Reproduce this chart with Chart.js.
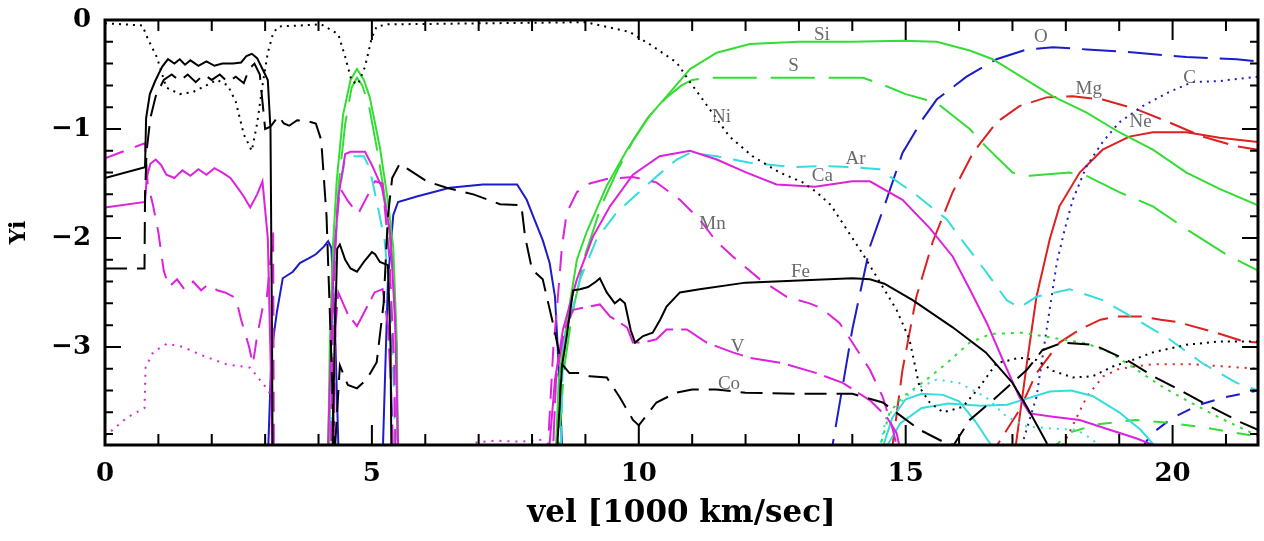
<!DOCTYPE html>
<html>
<head>
<meta charset="utf-8">
<script src="https://cdn.jsdelivr.net/npm/chart.js@4.4.0/dist/chart.umd.min.js"></script>
<style>
  html, body { margin: 0; padding: 0; background: #fff; }
</style>
</head>
<body>
<canvas id="abund" width="1264" height="541"></canvas>
<script>
// --- axis ticks ---
const xMajor = [0, 5, 10, 15, 20];
const xMinor = [1, 2, 3, 4, 6, 7, 8, 9, 11, 12, 13, 14, 16, 17, 18, 19, 21];
const yMajor = [0, -1, -2, -3];
const yMinor = [-0.2, -0.4, -0.6, -0.8, -1.2, -1.4, -1.6, -1.8, -2.2, -2.4, -2.6, -2.8, -3.2, -3.4, -3.6, -3.8];

// --- series: [vel, Yi] (below -3.9 = off the bottom) ---
const fe = [[0,-1.45],[0.75,-1.35],[0.77,-0.9],[0.84,-0.68],[0.94,-0.56],[1.07,-0.43],[1.18,-0.36],[1.3,-0.4],[1.4,-0.36],[1.5,-0.41],[1.6,-0.37],[1.75,-0.42],[1.9,-0.38],[2.05,-0.42],[2.2,-0.4],[2.4,-0.4],[2.55,-0.39],[2.65,-0.33],[2.75,-0.31],[2.85,-0.35],[2.95,-0.45],[3.05,-0.55],[3.1,-1.0],[3.13,-3.0],[3.15,-5],[4.22,-5],[4.3,-3.0],[4.35,-2.1],[4.4,-2.06],[4.5,-2.2],[4.6,-2.28],[4.72,-2.31],[4.85,-2.22],[5.0,-2.13],[5.06,-2.15],[5.15,-2.22],[5.3,-2.25],[5.35,-3.0],[5.38,-5],[8.45,-5],[8.48,-3.85],[8.56,-3.18],[8.65,-2.9],[8.77,-2.48],[8.9,-2.47],[9.05,-2.45],[9.2,-2.4],[9.27,-2.37],[9.4,-2.5],[9.55,-2.6],[9.65,-2.56],[9.74,-2.6],[9.85,-2.85],[9.93,-2.96],[10.08,-2.9],[10.26,-2.87],[10.4,-2.75],[10.52,-2.63],[10.77,-2.5],[11.14,-2.47],[12.0,-2.41],[13.0,-2.39],[14.0,-2.37],[14.33,-2.38],[14.6,-2.42],[15.13,-2.57],[15.88,-2.82],[16.5,-3.05],[17.0,-3.33],[17.27,-3.55],[17.64,-3.88],[17.7,-5]];
const co = [[0,-2.28],[0.74,-2.28],[0.75,-1.6],[0.78,-1.2],[0.85,-0.9],[0.95,-0.7],[1.1,-0.55],[1.25,-0.5],[1.4,-0.56],[1.55,-0.5],[1.7,-0.57],[1.85,-0.5],[2.0,-0.55],[2.15,-0.5],[2.3,-0.57],[2.45,-0.52],[2.6,-0.58],[2.7,-0.45],[2.8,-0.4],[2.9,-0.5],[2.95,-0.75],[3.0,-1.0],[3.1,-0.98],[3.25,-0.88],[3.35,-0.95],[3.45,-0.97],[3.6,-0.92],[3.8,-0.93],[3.95,-0.95],[4.05,-1.1],[4.15,-1.8],[4.22,-2.8],[4.3,-4.0],[4.4,-3.17],[4.55,-3.35],[4.72,-3.38],[4.9,-3.3],[5.09,-3.14],[5.22,-2.6],[5.3,-1.8],[5.38,-1.45],[5.52,-1.32],[6.03,-1.48],[6.4,-1.54],[6.9,-1.6],[7.4,-1.69],[7.8,-1.7],[7.87,-1.99],[8.0,-2.29],[8.2,-2.38],[8.4,-2.8],[8.55,-3.15],[8.7,-3.24],[8.9,-3.24],[9.08,-3.27],[9.4,-3.28],[9.64,-3.46],[9.89,-3.67],[10.0,-3.72],[10.33,-3.51],[10.7,-3.42],[11.0,-3.39],[11.45,-3.39],[12.0,-3.42],[13.0,-3.43],[14.0,-3.43],[14.57,-3.51],[15.26,-3.76],[15.7,-3.87],[15.9,-3.9],[16.2,-3.67],[16.7,-3.46],[17.27,-3.21],[17.56,-3.03],[17.94,-2.96],[18.52,-2.98],[19.14,-3.12],[19.64,-3.27],[20.15,-3.4],[20.64,-3.53],[21.27,-3.69],[21.6,-3.76]];
const ni = [[0,-0.03],[0.7,-0.05],[0.8,-0.17],[0.97,-0.34],[1.15,-0.62],[1.4,-0.68],[1.65,-0.66],[1.9,-0.6],[2.1,-0.55],[2.3,-0.6],[2.45,-0.75],[2.6,-1.05],[2.75,-1.2],[2.85,-0.95],[2.95,-0.6],[3.05,-0.3],[3.15,-0.12],[3.25,-0.06],[4.05,-0.04],[4.37,-0.13],[4.5,-0.34],[4.62,-0.56],[4.74,-0.59],[4.87,-0.43],[5.0,-0.16],[5.09,-0.06],[5.3,-0.04],[9.0,-0.02],[9.83,-0.11],[10.26,-0.24],[10.71,-0.39],[10.96,-0.57],[11.33,-0.82],[11.7,-1.07],[12.13,-1.25],[12.64,-1.4],[13.07,-1.49],[13.33,-1.58],[13.6,-1.7],[14.2,-2.15],[14.57,-2.45],[14.83,-2.66],[15.07,-2.93],[15.26,-3.37],[15.45,-3.51],[15.7,-3.6],[16.07,-3.55],[16.38,-3.37],[16.7,-3.15],[17.13,-3.1],[17.45,-3.12],[17.76,-3.22],[18.13,-3.28],[18.5,-3.27],[18.88,-3.18],[19.25,-3.12],[19.63,-3.05],[20.26,-2.98],[20.88,-2.95],[21.6,-2.95]];
const si = [[4.15,-5],[4.21,-3.0],[4.27,-2.09],[4.34,-1.48],[4.46,-0.87],[4.6,-0.55],[4.72,-0.45],[4.85,-0.55],[4.96,-0.71],[5.15,-1.17],[5.3,-1.66],[5.4,-2.09],[5.47,-3.0],[5.5,-5],[8.4,-5],[8.45,-3.9],[8.5,-3.3],[8.65,-2.78],[8.84,-2.2],[9.02,-1.95],[9.4,-1.52],[9.78,-1.19],[10.15,-0.91],[10.52,-0.7],[10.96,-0.45],[11.46,-0.3],[12.08,-0.22],[13.0,-0.2],[14.0,-0.2],[14.94,-0.19],[15.58,-0.2],[16.2,-0.28],[16.63,-0.36],[17.13,-0.51],[17.76,-0.7],[18.39,-0.85],[19.0,-1.03],[19.63,-1.19],[20.26,-1.4],[20.88,-1.55],[21.6,-1.7]];
const sul = [[4.17,-5],[4.23,-3.0],[4.3,-2.1],[4.38,-1.5],[4.5,-0.95],[4.62,-0.62],[4.72,-0.53],[4.82,-0.6],[4.95,-0.8],[5.12,-1.25],[5.28,-1.75],[5.38,-2.2],[5.46,-3.0],[5.5,-5],[8.45,-5],[8.5,-3.9],[8.6,-3.2],[8.75,-2.7],[9.0,-2.15],[9.3,-1.7],[9.6,-1.38],[9.9,-1.1],[10.2,-0.88],[10.5,-0.72],[10.8,-0.6],[11.0,-0.55],[11.3,-0.53],[14.2,-0.53],[14.6,-0.6],[15.0,-0.68],[15.58,-0.76],[16.2,-1.0],[16.5,-1.16],[17.0,-1.4],[17.32,-1.43],[18.07,-1.4],[18.39,-1.43],[19.0,-1.58],[19.63,-1.71],[20.26,-1.92],[21.0,-2.15],[21.6,-2.3]];
const greenDot = [[14.5,-3.95],[14.7,-3.6],[14.94,-3.46],[15.39,-3.3],[15.77,-3.15],[16.2,-2.96],[16.6,-2.88],[17.2,-2.87],[17.8,-2.92],[18.4,-2.97],[18.82,-3.05],[19.33,-3.21],[19.82,-3.37],[20.26,-3.49],[20.88,-3.65],[21.44,-3.78],[21.6,-3.82]];
const greenDash = [[17.7,-3.95],[18.1,-3.78],[18.6,-3.71],[19.3,-3.67],[20.0,-3.7],[20.6,-3.74],[21.2,-3.79],[21.6,-3.82]];
const ar = [[4.2,-5],[4.25,-3.0],[4.3,-2.2],[4.38,-1.6],[4.5,-1.27],[4.6,-1.25],[4.85,-1.25],[4.95,-1.35],[5.09,-1.66],[5.24,-2.03],[5.35,-2.6],[5.42,-3.5],[5.45,-5],[8.5,-5],[8.58,-3.0],[8.9,-2.38],[9.21,-2.01],[9.58,-1.77],[9.96,-1.6],[10.3,-1.45],[10.71,-1.28],[10.96,-1.22],[11.46,-1.25],[12.08,-1.31],[12.88,-1.35],[13.4,-1.34],[14.0,-1.35],[14.51,-1.37],[15.13,-1.58],[15.77,-1.83],[16.1,-2.05],[16.52,-2.32],[16.89,-2.57],[17.13,-2.64],[17.45,-2.54],[18.07,-2.47],[18.69,-2.57],[19.33,-2.75],[19.94,-2.93],[20.56,-3.15],[21.2,-3.33],[21.6,-3.4]];
const cyanA = [[14.6,-3.95],[14.9,-3.7],[15.3,-3.56],[15.8,-3.52],[16.4,-3.54],[16.9,-3.53],[17.3,-3.47],[17.7,-3.41],[18.1,-3.4],[18.5,-3.45],[19.0,-3.6],[19.4,-3.76],[19.65,-3.9],[19.7,-5]];
const cyanB = [[14.55,-3.95],[14.75,-3.65],[15.0,-3.48],[15.3,-3.43],[15.7,-3.44],[16.0,-3.5],[16.3,-3.68],[16.6,-3.9],[16.65,-5]];
const cyanDot = [[14.5,-3.95],[14.64,-3.64],[15.13,-3.4],[15.58,-3.3],[16.0,-3.33],[16.5,-3.46],[16.89,-3.64],[17.27,-3.73],[17.76,-3.75],[18.2,-3.76],[18.5,-3.85],[18.7,-3.95]];
const ca = [[0,-1.72],[0.75,-1.67],[0.78,-1.45],[0.85,-1.32],[0.95,-1.28],[1.05,-1.33],[1.15,-1.42],[1.3,-1.45],[1.45,-1.38],[1.6,-1.43],[1.75,-1.37],[1.9,-1.42],[2.05,-1.36],[2.2,-1.4],[2.35,-1.45],[2.5,-1.55],[2.6,-1.62],[2.72,-1.72],[2.85,-1.6],[2.95,-1.48],[3.05,-2.0],[3.12,-3.5],[3.15,-5],[4.15,-5],[4.18,-3.87],[4.27,-2.4],[4.37,-1.63],[4.5,-1.23],[4.6,-1.21],[4.87,-1.21],[5.0,-1.33],[5.19,-1.54],[5.34,-1.94],[5.43,-2.7],[5.49,-3.87],[5.52,-5],[8.3,-5],[8.33,-3.88],[8.43,-3.3],[8.58,-2.84],[8.84,-2.38],[9.14,-1.99],[9.46,-1.71],[9.89,-1.42],[10.39,-1.25],[10.96,-1.2],[11.46,-1.28],[12.02,-1.4],[12.58,-1.51],[13.3,-1.53],[14.0,-1.48],[14.33,-1.48],[14.94,-1.65],[15.45,-1.91],[15.88,-2.17],[16.2,-2.47],[16.52,-2.78],[16.82,-3.12],[17.13,-3.46],[17.32,-3.61],[17.76,-3.64],[18.26,-3.67],[18.82,-3.76],[19.33,-3.84],[19.63,-3.9],[19.8,-5]];
const mn = [[0,-1.27],[0.75,-1.13],[0.8,-1.5],[0.9,-1.7],[1.0,-1.95],[1.1,-2.3],[1.2,-2.45],[1.35,-2.38],[1.5,-2.48],[1.65,-2.4],[1.8,-2.48],[1.95,-2.42],[2.1,-2.48],[2.25,-2.5],[2.45,-2.55],[2.55,-2.75],[2.7,-3.0],[2.77,-3.16],[2.85,-2.9],[2.95,-2.65],[3.03,-2.55],[3.1,-2.2],[3.15,-1.95],[3.17,-5],[4.2,-5],[4.28,-2.5],[4.33,-1.9],[4.4,-1.54],[4.55,-1.66],[4.74,-1.78],[4.9,-1.63],[5.06,-1.48],[5.2,-1.5],[5.33,-2.2],[5.42,-3.2],[5.47,-5],[8.2,-5],[8.3,-3.9],[8.4,-3.0],[8.46,-2.69],[8.56,-2.08],[8.65,-1.77],[8.84,-1.58],[9.08,-1.5],[9.4,-1.46],[9.89,-1.44],[10.33,-1.49],[10.77,-1.65],[11.14,-1.83],[11.45,-2.03],[11.76,-2.17],[12.27,-2.38],[12.77,-2.54],[13.2,-2.6],[13.4,-2.64],[13.76,-2.78],[14.0,-2.96],[14.33,-3.21],[14.57,-3.46],[14.76,-3.76],[14.85,-3.95],[14.9,-5]];
const va = [[4.25,-5],[4.32,-2.8],[4.37,-2.5],[4.55,-2.7],[4.72,-2.81],[4.9,-2.64],[5.05,-2.5],[5.2,-2.47],[5.3,-2.8],[5.38,-3.6],[5.42,-5],[8.3,-5],[8.45,-3.3],[8.6,-2.85],[8.77,-2.66],[9.27,-2.61],[9.46,-2.72],[9.78,-2.82],[9.89,-2.96],[10.08,-2.96],[10.33,-2.93],[10.52,-2.84],[10.9,-2.84],[11.27,-2.96],[11.76,-3.05],[12.08,-3.1],[12.7,-3.15],[13.33,-3.24],[13.82,-3.33],[14.33,-3.49],[14.64,-3.64],[14.83,-3.79],[14.9,-3.95],[15.0,-5]];
const magDot = [[0,-3.82],[0.41,-3.65],[0.74,-3.56],[0.76,-3.19],[0.9,-3.05],[1.16,-2.97],[1.46,-3.0],[1.78,-3.07],[2.28,-3.16],[2.72,-3.19],[3.03,-3.38],[3.12,-3.45],[3.15,-5],[6.85,-5],[6.9,-3.88],[7.3,-3.86],[7.8,-3.87],[8.2,-3.85],[8.3,-5]];
const blueSolid = [[3.03,-5],[3.06,-3.9],[3.12,-3.04],[3.22,-2.68],[3.33,-2.37],[3.52,-2.31],[3.65,-2.23],[3.84,-2.18],[3.95,-2.15],[4.1,-2.08],[4.18,-2.03],[4.24,-2.09],[4.3,-2.7],[4.37,-3.87],[4.4,-5],[5.18,-5],[5.21,-3.87],[5.3,-2.4],[5.4,-1.79],[5.49,-1.67],[5.84,-1.62],[6.46,-1.54],[7.08,-1.51],[7.72,-1.51],[7.9,-1.65],[8.02,-1.8],[8.2,-2.02],[8.33,-2.23],[8.43,-2.54],[8.48,-3.0],[8.56,-3.88],[8.6,-5]];
const oxy = [[13.55,-5],[13.63,-3.9],[14.0,-2.84],[14.33,-2.08],[14.64,-1.65],[14.94,-1.22],[15.32,-0.91],[15.58,-0.73],[16.14,-0.52],[16.7,-0.36],[17.27,-0.27],[17.76,-0.25],[18.39,-0.27],[19.33,-0.3],[20.26,-0.34],[21.2,-0.36],[21.6,-0.38]];
const carb = [[17.15,-5],[17.19,-3.88],[17.45,-3.46],[17.64,-2.84],[17.83,-2.23],[17.98,-1.92],[18.13,-1.65],[18.39,-1.34],[18.69,-1.12],[19.0,-0.94],[19.44,-0.79],[19.94,-0.66],[20.37,-0.57],[20.88,-0.56],[21.6,-0.52]];
const blueDash = [[19.4,-3.95],[19.6,-3.8],[20.0,-3.65],[20.5,-3.53],[21.0,-3.46],[21.6,-3.4]];
const ne = [[17.0,-5],[17.05,-3.95],[17.27,-3.15],[17.45,-2.54],[17.7,-2.01],[17.88,-1.71],[18.26,-1.4],[18.69,-1.19],[19.19,-1.07],[19.63,-1.03],[20.26,-1.03],[20.88,-1.08],[21.6,-1.12]];
const mg = [[14.7,-5],[14.76,-3.88],[14.94,-3.21],[15.2,-2.54],[15.51,-2.03],[15.88,-1.58],[16.26,-1.22],[16.7,-0.94],[17.13,-0.79],[17.64,-0.71],[18.13,-0.7],[18.69,-0.73],[19.33,-0.82],[19.94,-0.94],[20.56,-1.07],[21.2,-1.16],[21.6,-1.19]];
const redDash = [[16.6,-5],[16.65,-3.95],[17.13,-3.58],[17.45,-3.24],[17.88,-2.96],[18.26,-2.84],[18.65,-2.75],[18.95,-2.72],[19.4,-2.72],[19.78,-2.75],[20.08,-2.77],[20.82,-2.87],[21.33,-2.95],[21.6,-2.96]];
const redDot = [[17.85,-5],[17.9,-3.95],[18.15,-3.7],[18.4,-3.45],[18.7,-3.27],[19.0,-3.2],[19.6,-3.16],[20.4,-3.16],[21.0,-3.18],[21.6,-3.2]];

// --- element labels ---
const labelText = ['Si', 'S', 'Ni', 'Ar', 'Ca', 'Mn', 'Fe', 'V', 'Co', 'O', 'Mg', 'C', 'Ne'];
const labelVel  = [13.43, 12.9, 11.55, 14.06, 13.44, 11.38, 13.03, 11.85, 11.69, 17.53, 18.43, 20.32, 19.4];
const labelY    = [-0.14, -0.42, -0.89, -1.28, -1.43, -1.87, -2.31, -3.0, -3.34, -0.16, -0.63, -0.53, -0.94];

const GREEN = '#33dd33', CYAN = '#33dddd', MAG = '#dd22dd', BLUE = '#1c1cc8', RED = '#dd2020', BLACK = '#000';

const series = [
  { data: ni,        color: BLACK, dash: [2, 5] },
  { data: co,        color: BLACK, dash: [22, 10] },
  { data: fe,        color: BLACK, dash: [] },
  { data: magDot,    color: MAG,   dash: [2, 6] },
  { data: mn,        color: MAG,   dash: [20, 12] },
  { data: va,        color: MAG,   dash: [30, 8] },
  { data: ca,        color: MAG,   dash: [] },
  { data: ar,        color: CYAN,  dash: [20, 12] },
  { data: cyanA,     color: CYAN,  dash: [] },
  { data: cyanB,     color: CYAN,  dash: [] },
  { data: cyanDot,   color: CYAN,  dash: [2, 6] },
  { data: greenDot,  color: GREEN, dash: [3, 6] },
  { data: greenDash, color: GREEN, dash: [14, 14] },
  { data: sul,       color: GREEN, dash: [44, 14] },
  { data: si,        color: GREEN, dash: [] },
  { data: blueSolid, color: BLUE,  dash: [] },
  { data: oxy,       color: BLUE,  dash: [34, 12] },
  { data: carb,      color: BLUE,  dash: [2, 5] },
  { data: blueDash,  color: BLUE,  dash: [14, 12] },
  { data: redDot,    color: RED,   dash: [2, 6] },
  { data: redDash,   color: RED,   dash: [24, 10] },
  { data: mg,        color: RED,   dash: [26, 10] },
  { data: ne,        color: RED,   dash: [] },
];

// ticks pointing inward on all four sides, frame, element names
const framePlugin = {
  id: 'frame',
  afterDatasetsDraw(chart) {
    const { ctx, chartArea: a, scales: { x, y } } = chart;
    ctx.save();
    ctx.strokeStyle = '#000';
    ctx.lineWidth = 2;
    ctx.beginPath();
    const xt = (v, len) => {
      const px = x.getPixelForValue(v);
      ctx.moveTo(px, a.bottom); ctx.lineTo(px, a.bottom - len);
      ctx.moveTo(px, a.top); ctx.lineTo(px, a.top + len);
    };
    const yt = (v, len) => {
      const py = y.getPixelForValue(v);
      ctx.moveTo(a.left, py); ctx.lineTo(a.left + len, py);
      ctx.moveTo(a.right, py); ctx.lineTo(a.right - len, py);
    };
    xMajor.forEach(v => xt(v, 20));
    xMinor.forEach(v => xt(v, 11));
    yMajor.forEach(v => yt(v, 16));
    yMinor.forEach(v => yt(v, 8));
    ctx.stroke();
    ctx.lineWidth = 3;
    ctx.strokeRect(a.left, a.top, a.width, a.height);

    ctx.fillStyle = '#6a6a6a';
    ctx.font = '19px "Liberation Serif"';
    ctx.textAlign = 'center';
    ctx.textBaseline = 'middle';
    labelText.forEach((t, i) => {
      ctx.fillText(t, x.getPixelForValue(labelVel[i]), y.getPixelForValue(labelY[i]));
    });
    ctx.restore();
  }
};

const minus = v => (v < 0 ? '\u2212' + Math.abs(v) : String(v));

new Chart(document.getElementById('abund'), {
  type: 'line',
  data: {
    datasets: series.map(s => ({
      data: s.data.map(p => ({ x: p[0], y: p[1] })),
      borderColor: s.color,
      borderDash: s.dash,
      borderWidth: 2,
      pointRadius: 0,
      tension: 0,
      fill: false
    }))
  },
  options: {
    responsive: false,
    animation: false,
    layout: { padding: { top: 20, right: 6, left: 0, bottom: 0 } },
    plugins: { legend: { display: false }, tooltip: { enabled: false } },
    scales: {
      x: {
        type: 'linear', min: 0, max: 21.6,
        afterBuildTicks: s => { s.ticks = xMajor.map(v => ({ value: v })); },
        afterFit: s => { s.height = 96; s.paddingLeft = 0; s.paddingRight = 0; },
        grid: { display: false, drawTicks: false },
        border: { display: false },
        ticks: { color: '#000', padding: 14, maxRotation: 0,
                 font: { family: 'DejaVu Serif', size: 26, weight: 'bold' } },
        title: { display: true, text: 'vel [1000 km/sec]', color: '#000',
                 font: { family: 'DejaVu Serif', size: 31, weight: 'bold' },
                 padding: { top: 0, bottom: 8 } }
      },
      y: {
        type: 'linear', min: -3.9, max: 0,
        afterBuildTicks: s => { s.ticks = yMajor.map(v => ({ value: v })); },
        afterFit: s => { s.width = 105; s.paddingTop = 0; s.paddingBottom = 0; },
        grid: { display: false, drawTicks: false },
        border: { display: false },
        ticks: { color: '#000', padding: 14, callback: minus,
                 font: { family: 'DejaVu Serif', size: 26, weight: 'bold' } },
        title: { display: true, text: 'Yi', color: '#000',
                 font: { family: 'DejaVu Serif', size: 22, weight: 'bold' },
                 padding: { top: 6, bottom: 0 } }
      }
    }
  },
  plugins: [framePlugin]
});
</script>
</body>
</html>
